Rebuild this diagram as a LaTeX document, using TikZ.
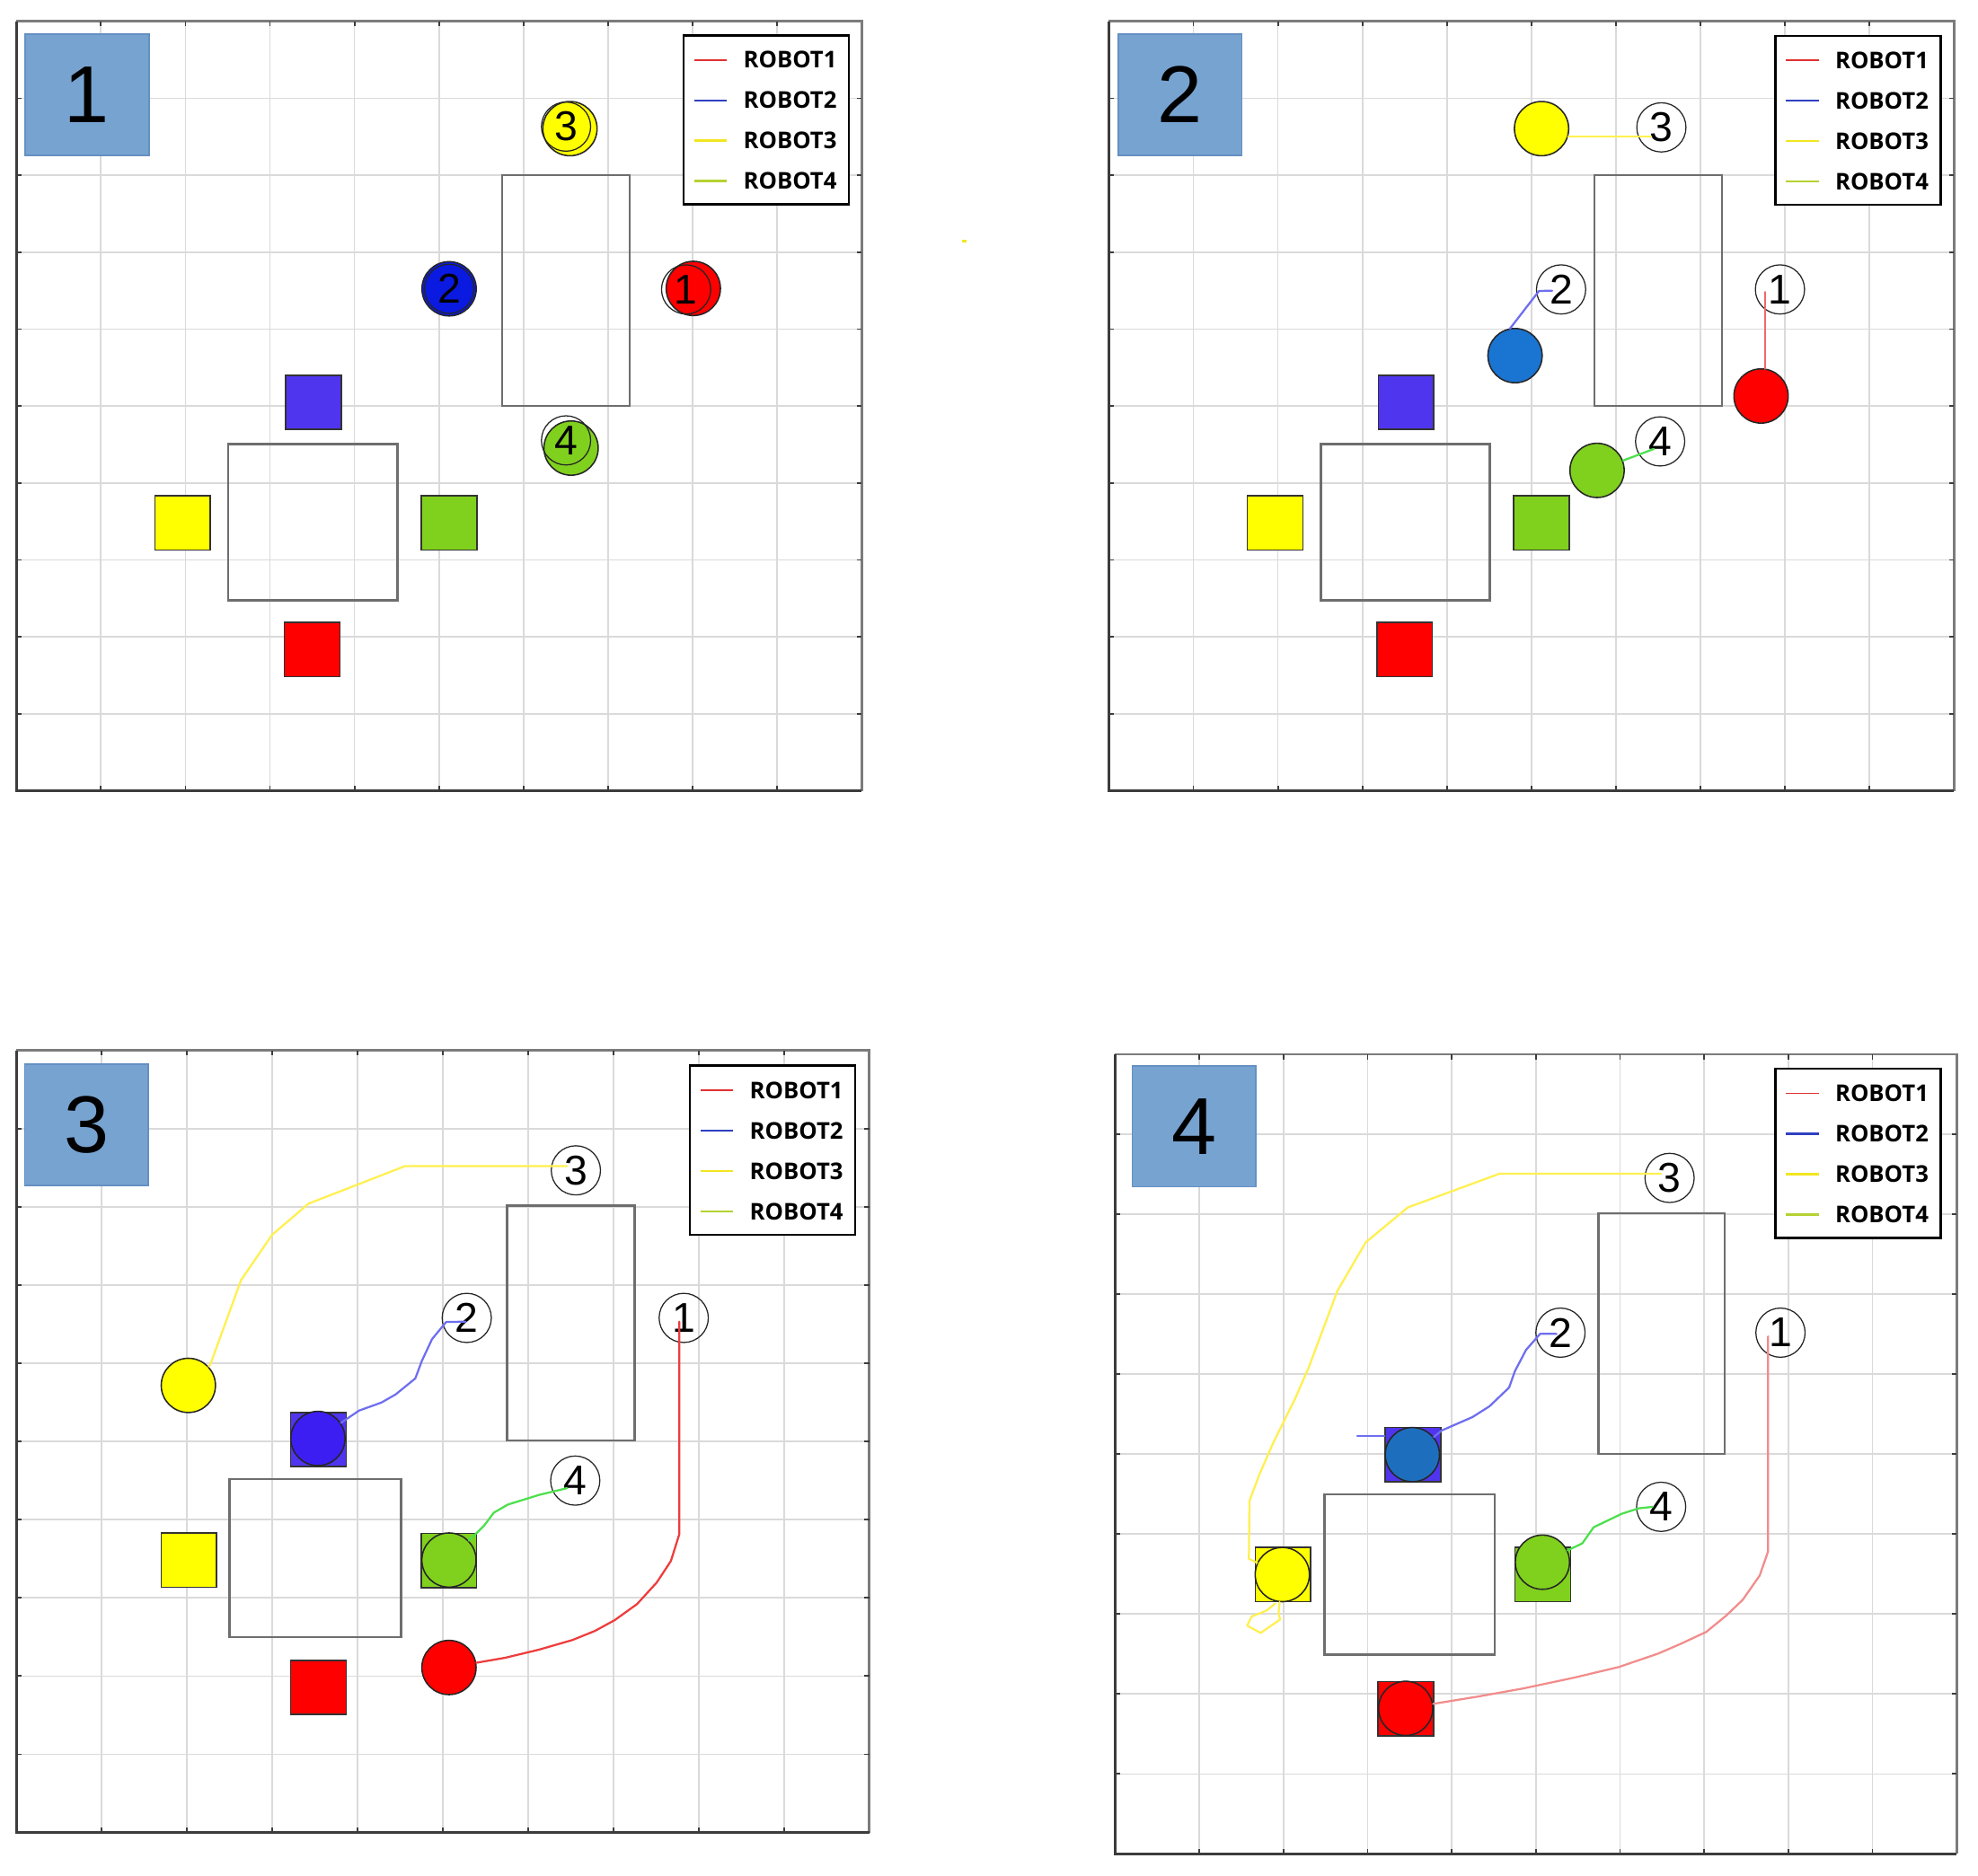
\documentclass[tikz,border=0pt]{standalone}
\usepackage{fontspec}
\setmainfont{Liberation Sans}
\newfontfamily\legfont{Open Sans}
\usetikzlibrary{calc}
\definecolor{gridgray}{HTML}{DADADA}
\definecolor{framedark}{HTML}{3C3C3C}
\definecolor{framelight}{HTML}{7C7C7C}
\definecolor{obgray}{HTML}{6E6E6E}
\definecolor{badgefill}{HTML}{77A3D1}
\definecolor{badgeedge}{HTML}{6590C2}
\definecolor{cyel}{HTML}{FFFF00}
\definecolor{cred}{HTML}{FF0000}
\definecolor{cgreen}{HTML}{80D01E}
\definecolor{csqblue}{HTML}{4F35EE}
\definecolor{cblueA}{HTML}{0A1AE0}
\definecolor{cblueB}{HTML}{1A74D2}
\definecolor{cblueC}{HTML}{3C1EF2}
\definecolor{cblueD}{HTML}{1E6EBE}
\definecolor{trred}{HTML}{EE3C3C}
\definecolor{trredsoft}{HTML}{F06868}
\definecolor{trredlight}{HTML}{F28C8C}
\definecolor{trblue}{HTML}{6E6EF0}
\definecolor{tryel}{HTML}{FFF050}
\definecolor{trgreen}{HTML}{4CE04C}
\definecolor{lgred}{HTML}{E03030}
\definecolor{lgblue}{HTML}{3040C0}
\definecolor{lgyel}{HTML}{F2E620}
\definecolor{lggreen}{HTML}{B4D232}
\tikzset{
  gridl/.style={draw=gridgray, line width=1.2pt},
  tickl/.style={draw=framedark, line width=1.3pt},
  obst/.style={draw=obgray, line width=1.7pt},
  tgt/.style={rectangle, draw=black!80, line width=1.1pt, minimum width=44pt, minimum height=43pt, inner sep=0pt},
  robot/.style={circle, draw=black!85, line width=1.1pt, minimum size=43pt, inner sep=0pt},
  lbl/.style={circle, draw=black!85, line width=0.9pt, minimum size=39pt, inner sep=0pt, font=\fontsize{33}{33}\selectfont},
  badge/.style={rectangle, fill=badgefill, draw=badgeedge, line width=1.2pt, minimum width=98pt, minimum height=96pt, inner sep=0pt, font=\fontsize{64}{64}\selectfont},
  legbox/.style={rectangle, fill=white, draw=black, line width=1.8pt, minimum width=131pt, minimum height=134pt, inner sep=0pt},
  legline/.style={line width=1.6pt},
  legtxt/.style={anchor=west, inner sep=0pt, font=\legfont\bfseries\fontsize{18.3}{18.3}\selectfont},
  trail/.style={line width=1.6pt, line join=round, line cap=round},
}
% x0 y0 x1 y1
\newcommand{\mypanel}[4]{%
  \foreach \i in {1,...,9}{%
    \draw[gridl] ($(#1,#2)!\i/10!(#3,#2)$) -- ($(#1,#4)!\i/10!(#3,#4)$);
    \draw[gridl] ($(#1,#2)!\i/10!(#1,#4)$) -- ($(#3,#2)!\i/10!(#3,#4)$);
  }
  \draw[draw=framelight, line width=2pt] (#1,#2) -- (#3,#2) -- (#3,#4);
  \draw[draw=framedark, line width=2pt] (#1,#2) -- (#1,#4) -- (#3,#4);
  \foreach \i in {1,...,9}{%
    \draw[tickl] ($(#1,#4)!\i/10!(#3,#4)$) -- ++(0,-4);
    \draw[tickl] ($(#1,#2)!\i/10!(#3,#2)$) -- ++(0,4);
    \draw[tickl] ($(#1,#2)!\i/10!(#1,#4)$) -- ++(4,0);
    \draw[tickl] ($(#3,#2)!\i/10!(#3,#4)$) -- ++(-4,0);
  }
}
% legend: #1 centre x, #2 centre y, #3 suffix
\newcommand{\mylegend}[3]{%
  \node[legbox] (leg#3) at (#1,#2) {};
  \draw[legline, lgred, line width=1.3pt] ($(leg#3.west)+(9,-47.5)$) -- ++(26,0);
  \draw[legline, lgblue]  ($(leg#3.west)+(9,-15.5)$) -- ++(26,0);
  \draw[legline, lgyel]   ($(leg#3.west)+(9,16.5)$) -- ++(26,0);
  \draw[legline, lggreen] ($(leg#3.west)+(9,48.5)$) -- ++(26,0);
  \node[legtxt] (lt1#3) at ($(leg#3.west)+(48,-47.5)$) {ROBOT1};
  \node[legtxt] (lt2#3) at ($(leg#3.west)+(48,-15.5)$) {ROBOT2};
  \node[legtxt] (lt3#3) at ($(leg#3.west)+(48,16.5)$) {ROBOT3};
  \node[legtxt] (lt4#3) at ($(leg#3.west)+(48,48.5)$) {ROBOT4};
}
\begin{document}
\begin{tikzpicture}[x=1pt, y=-1pt]
\useasboundingbox (0,0) rectangle (1568,1487);
\fill[white] (0,0) rectangle (1568,1487);

%================ PANEL 1 =================
\mypanel{13}{17}{683}{627}
\draw[obst] (398,139) rectangle (499,322);
\draw[obst] (181,352) rectangle (315,476);
\node[tgt, fill=csqblue] (sq2a) at (248.6,319) {};
\node[tgt, fill=cyel] (sq3a) at (144.8,414.5) {};
\node[tgt, fill=cgreen] (sq4a) at (356,414.5) {};
\node[tgt, fill=cred] (sq1a) at (247.5,515) {};
\node[robot, fill=cyel] (r3a) at (451.8,102) {};
\node[robot, fill=cblueA] (r2a) at (356,229) {};
\node[robot, fill=cred] (r1a) at (549.6,228.7) {};
\node[robot, fill=cgreen] (r4a) at (452.7,355.3) {};
\node[lbl] (l3a) at (448.7,100.4) {3};
\node[lbl] (l2a) at (356,229) {2};
\node[lbl] (l1a) at (543.9,229.5) {1};
\node[lbl] (l4a) at (448.7,349.2) {4};
\mylegend{607.5}{95}{a}
\node[badge] (ba) at (69,75) {1};

\fill[lgyel] (762.5,190.3) rectangle (766,192.6);

%================ PANEL 2 =================
\mypanel{879}{17}{1549}{627}
\draw[obst] (1264,139) rectangle (1365,322);
\draw[obst] (1047,352) rectangle (1181,476);
\node[tgt, fill=csqblue] (sq2b) at (1114.6,319) {};
\node[tgt, fill=cyel] (sq3b) at (1010.8,414.5) {};
\node[tgt, fill=cgreen] (sq4b) at (1222,414.5) {};
\node[tgt, fill=cred] (sq1b) at (1113.5,515) {};
\node[robot, fill=cyel] (r3b) at (1222,102) {};
\node[robot, fill=cblueB] (r2b) at (1201,282) {};
\node[robot, fill=cred] (r1b) at (1396,314) {};
\node[robot, fill=cgreen] (r4b) at (1266,373) {};
\node[lbl] (l3b) at (1317,101) {3};
\node[lbl] (l2b) at (1237.5,229.5) {2};
\node[lbl] (l1b) at (1411,229.5) {1};
\node[lbl] (l4b) at (1316,350) {4};
\draw[trail, tryel] ($(r3b.east)+(-1,6)$) -- ($(l3b.center)+(-8,7)$);
\draw[trail, trblue] ($(l2b.center)+(-7,1)$) -- (1220,230.7) -- (1197,260.5) -- (r2b);
\draw[trail, trredsoft] ($(l1b.center)+(-12,2)$) -- ($(r1b.north)+(3,0.5)$);
\draw[trail, trgreen] ($(l4b.center)+(-5,6)$) -- (r4b);
\mylegend{1473}{95.5}{b}
\node[badge] (bb) at (935.5,75) {2};

%================ PANEL 3 =================
\mypanel{13}{833}{689}{1453}
\draw[obst] (402,956) rectangle (503,1142);
\draw[obst] (182,1173) rectangle (318,1298);
\node[tgt, fill=csqblue] (sq2c) at (252.5,1141.5) {};
\node[tgt, fill=cyel] (sq3c) at (149.8,1237) {};
\node[tgt, fill=cgreen] (sq4c) at (355.8,1237.5) {};
\node[tgt, fill=cred] (sq1c) at (252.5,1338) {};
\node[robot, fill=cyel] (r3c) at (149.3,1098.5) {};
\node[robot, fill=cblueC] (r2c) at (252,1140.6) {};
\node[robot, fill=cgreen] (r4c) at (355.9,1237) {};
\node[robot, fill=cred] (r1c) at (355.9,1322.2) {};
\node[lbl] (l3c) at (456.5,928) {3};
\node[lbl] (l2c) at (370,1045) {2};
\node[lbl] (l1c) at (542,1045) {1};
\node[lbl] (l4c) at (456,1174) {4};
\draw[trail, tryel] ($(l3c.center)+(-7,-3.4)$) -- (321.2,924.6) -- (244.6,954.4) -- (215.6,979.2) -- (191.1,1015) -- (166.6,1082.3) -- (r3c);
\draw[trail, trblue] ($(l2c.center)+(-1,3)$) -- (353.7,1048.2) -- (342.5,1061.8) -- (334.5,1078.9) -- (329.2,1093) -- (313.6,1105.7) -- (302.4,1112.1) -- (284.6,1118.5) -- (r2c);
\draw[trail, trgreen] ($(l4c.center)+(-6.5,6)$) -- (427.1,1185.4) -- (402.6,1193) -- (391.5,1199.4) -- (383.5,1210) -- (r4c);
\draw[trail, trred] ($(l1c.center)+(-3.5,3)$) -- (538.5,1216.5) -- (531.8,1237.8) -- (520.6,1254.8) -- (505,1271.9) -- (487.2,1284.7) -- (471.6,1293.2) -- (453.8,1300.4) -- (427.1,1308.1) -- (400.4,1314.5) -- (r1c);
\mylegend{612.5}{912}{c}
\node[badge] (bc) at (68.5,892) {3};

%================ PANEL 4 =================
\mypanel{884}{836}{1551}{1470}
\draw[obst] (1267,962) rectangle (1367,1153);
\draw[obst] (1050,1185) rectangle (1185,1312);
\node[tgt, fill=csqblue] (sq2d) at (1120,1153.4) {};
\node[tgt, fill=cyel] (sq3d) at (1017,1248.5) {};
\node[tgt, fill=cgreen] (sq4d) at (1223,1248.5) {};
\node[tgt, fill=cred] (sq1d) at (1114.5,1355) {};
\coordinate (stubd) at (1075.9,1138.5);
\draw[trail, trblue, line width=1.8pt] (stubd) -- (stubd -| sq2d.west);
\node[robot, fill=cyel] (r3d) at (1016.5,1248.5) {};
\node[robot, fill=cblueD] (r2d) at (1119.6,1153.4) {};
\node[robot, fill=cgreen] (r4d) at (1222.7,1238.7) {};
\node[robot, fill=cred] (r1d) at (1114.3,1354.6) {};
\node[lbl] (l3d) at (1323.5,934) {3};
\node[lbl] (l2d) at (1237,1056.7) {2};
\node[lbl] (l1d) at (1411.4,1056.7) {1};
\node[lbl] (l4d) at (1316.8,1194.8) {4};
\draw[trail, tryel] ($(l3d.center)+(-6.7,-3.4)$) -- (1188.8,930.6) -- (1116,957.4) -- (1082.6,985.1) -- (1060.2,1023.5) -- (1037.9,1083.1) -- (1026.8,1108.7) -- (1008.9,1144.9) -- (998,1170) -- (990.5,1190) -- (990,1236) -- (r3d);
\draw[trail, tryel] (r3d) -- (1013.5,1279.4) -- (1014.8,1284.1) -- (999.3,1294.8) -- (988.6,1289) -- (992.2,1281.8) -- (1004,1277) -- (1011,1271.5);
\draw[trail, trblue] ($(l2d.center)+(-3,1)$) -- (1220.9,1057.6) -- (1209.7,1070.4) -- (1200.8,1087.4) -- (1196.3,1100.2) -- (1180.7,1115.1) -- (1167.3,1123.6) -- (1142.8,1134.3) -- (r2d);
\draw[trail, trgreen] ($(l4d.center)+(-6.7,0)$) -- (1299,1196) -- (1285.6,1200.3) -- (1263.3,1211) -- (1254.3,1223.8) -- (r4d);
\draw[trail, trredlight] ($(l1d.center)+(-9.8,3)$) -- (1401.6,1230.1) -- (1394.9,1249.3) -- (1381.5,1268.5) -- (1368.1,1281.3) -- (1352.5,1294) -- (1332.4,1303.4) -- (1314.6,1311.1) -- (1283.3,1321.8) -- (1247.6,1330.3) -- (1207.5,1338.8) -- (1171.8,1345.2) -- (r1d);
\mylegend{1473}{914.5}{d}
\node[badge] (bd) at (946.5,893) {4};
\end{tikzpicture}
\end{document}
